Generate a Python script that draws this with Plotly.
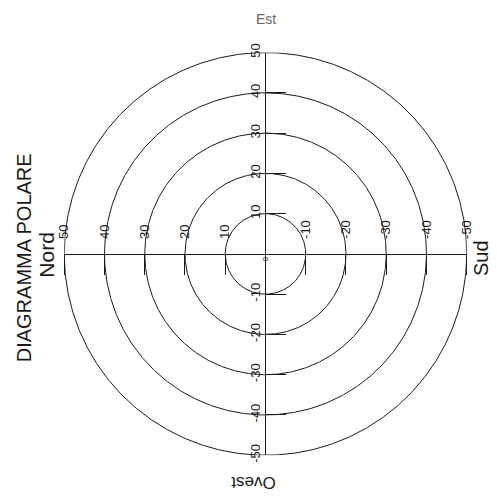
import numpy as np
import plotly.graph_objects as go

# Concentric rings of the polar diagram
rings = [10, 20, 30, 40, 50]

# Horizontal axis (Nord on the left, Sud on the right)
ns_ticks = [50, 40, 30, 20, 10, -10, -20, -30, -40, -50]
ns_labels = ["50", "40", "30", "20", "10", "-10", "-20", "-30", "-40", "-50"]

# Vertical axis (Est at the top, Ovest at the bottom)
eo_ticks = [50, 40, 30, 20, 10, -10, -20, -30, -40, -50]
eo_labels = ["50", "40", "30", "20", "10", "-10", "-20", "-30", "-40", "-50"]

title_text = "DIAGRAMMA POLARE"
directions = ["Nord", "Sud", "Est", "Ovest"]

W, H = 497, 500
FONT = "Arial, Liberation Sans, sans-serif"
INK = "#1a1a1a"

fig = go.Figure()

t = np.linspace(0, 2 * np.pi, 721)
for r in rings:
    fig.add_trace(go.Scatter(
        x=r * np.cos(t), y=r * np.sin(t), mode="lines",
        line=dict(color=INK, width=1), hoverinfo="skip", showlegend=False,
    ))

# plot area in pixels
x0, x1 = 58, 473
y0, y1 = 45, 461
xdom = [x0 / W, x1 / W]
ydom = [1 - y1 / H, 1 - y0 / H]

fig.update_layout(
    width=W, height=H,
    margin=dict(l=0, r=0, t=0, b=0),
    paper_bgcolor="white", plot_bgcolor="white",
    showlegend=False,
    xaxis=dict(
        range=[max(rings), -max(rings)], domain=xdom,
        anchor="free", position=(ydom[0] + ydom[1]) / 2,
        showgrid=False, zeroline=False,
        showline=True, linecolor=INK, linewidth=1,
        tickmode="array", tickvals=ns_ticks, ticktext=ns_labels,
        ticks="outside", ticklen=20, tickwidth=1, tickcolor=INK,
        ticklabelposition="inside", ticklabeloverflow="allow",
        ticklabelstandoff=10,
        tickangle=-90, tickfont=dict(family=FONT, size=13, color=INK),
    ),
    yaxis=dict(
        range=[-max(rings), max(rings)], domain=ydom,
        anchor="free", position=(xdom[0] + xdom[1]) / 2,
        showgrid=False, zeroline=False,
        showline=True, linecolor=INK, linewidth=1,
        tickmode="array", tickvals=eo_ticks, ticktext=eo_labels,
        ticks="inside", ticklen=20, tickwidth=1, tickcolor=INK,
        ticklabeloverflow="allow",
        tickangle=-90, tickfont=dict(family=FONT, size=13, color=INK),
    ),
)

# origin label
fig.add_annotation(x=0, y=0, xref="x", yref="y", text="0", showarrow=False,
                   textangle=-90, yshift=-5, font=dict(family=FONT, size=8, color=INK))

ann = [
    (title_text, 16, 257, -90, 20, INK),
    (directions[0], 40, 254, -90, 21, INK),
    (directions[1], 487, 257, -90, 20, INK),
    (directions[2], 266, 10, 0, 14, "#666666"),
    (directions[3], 253, 489, 180, 17, INK),
]
for text, px, py, ang, size, col in ann:
    fig.add_annotation(x=px / W, y=1 - py / H, xref="paper", yref="paper",
                       text=text, showarrow=False, textangle=ang,
                       xanchor="center", yanchor="middle",
                       font=dict(family=FONT, size=size, color=col))

fig.write_html("out.html")
